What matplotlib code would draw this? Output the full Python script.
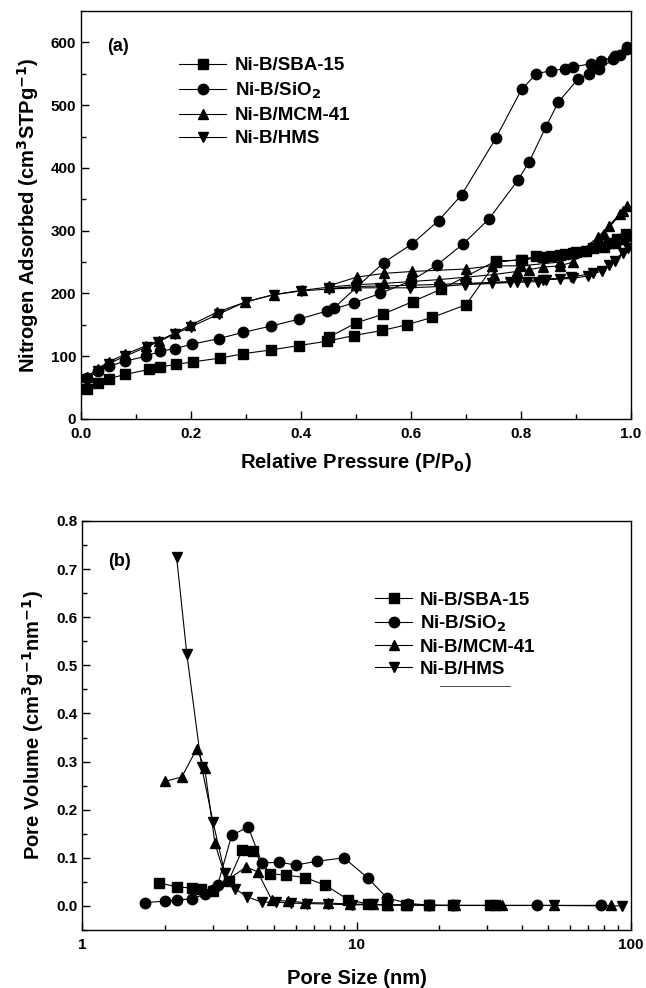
import matplotlib
matplotlib.use("Agg")
import matplotlib.pyplot as plt
from matplotlib.ticker import MultipleLocator, LogLocator, NullFormatter, FixedLocator, FixedFormatter, FormatStrFormatter

plt.rcParams['font.family'] = ['Liberation Sans', 'DejaVu Sans']
plt.rcParams['font.weight'] = 'bold'
plt.rcParams['mathtext.default'] = 'bf'

# ---------------- Panel (a) data: N2 isotherms (adsorption then desorption) ----------------
sba_p = [0.01, 0.03, 0.05, 0.08, 0.124, 0.144, 0.173, 0.203, 0.253, 0.295, 0.345, 0.396, 0.448, 0.496,
         0.547, 0.592, 0.639, 0.70, 0.755, 0.801, 0.827, 0.854, 0.88, 0.895, 0.919, 0.95, 0.97, 0.985, 0.995,
         0.99, 0.975, 0.96, 0.93, 0.90, 0.87, 0.84, 0.80, 0.755, 0.655, 0.603, 0.549, 0.50, 0.45]
sba_v = [47, 58, 64, 71, 79, 83, 87, 91, 97, 104, 110, 117, 124, 133,
         141, 150, 162, 182, 250, 254, 259, 259, 263, 265, 268, 274, 280, 286, 292,
         294, 287, 280, 272, 266, 262, 258, 253, 252, 207, 187, 167, 153, 130]

sio2_p = [0.01, 0.03, 0.05, 0.08, 0.118, 0.144, 0.17, 0.201, 0.25, 0.295, 0.345, 0.396, 0.447, 0.496, 0.544,
          0.60, 0.648, 0.695, 0.742, 0.794, 0.815, 0.845, 0.868, 0.904, 0.924, 0.942, 0.968, 0.98, 0.992,
          0.992, 0.971, 0.945, 0.928, 0.894, 0.88, 0.855, 0.828, 0.801, 0.754, 0.692, 0.65, 0.602, 0.55, 0.46]
sio2_v = [65, 76, 84, 92, 100, 108, 112, 119, 128, 138, 148, 159, 172, 185, 200,
          220, 246, 279, 319, 380, 410, 465, 505, 542, 549, 557, 573, 580, 590,
          592, 578, 570, 566, 561, 558, 555, 550, 525, 447, 357, 316, 279, 249, 177]

mcm_p = [0.01, 0.03, 0.05, 0.08, 0.119, 0.142, 0.171, 0.198, 0.247, 0.298, 0.35, 0.401, 0.45, 0.50,
         0.55, 0.60, 0.65, 0.70, 0.75, 0.792, 0.815, 0.84, 0.871, 0.894, 0.927, 0.951, 0.98, 0.992,
         0.985, 0.96, 0.94, 0.91, 0.87, 0.80, 0.747, 0.70, 0.601, 0.551, 0.501, 0.45]
mcm_v = [67, 80, 91, 103, 117, 125, 137, 149, 170, 186, 198, 205, 210, 214,
         216, 219, 222, 226, 230, 235, 238, 242, 244, 250, 274, 295, 326, 340,
         332, 308, 290, 268, 250, 244, 244, 239, 235, 232, 226, 212]

hms_p = [0.01, 0.03, 0.05, 0.08, 0.12, 0.14, 0.17, 0.2, 0.25, 0.3, 0.35, 0.4, 0.45, 0.5,
         0.544, 0.598, 0.65, 0.698, 0.747, 0.792, 0.81, 0.83, 0.845, 0.871, 0.894, 0.922, 0.947, 0.971, 0.995,
         0.985, 0.96, 0.93, 0.89, 0.84, 0.78, 0.70, 0.60, 0.50, 0.45]
hms_v = [63, 77, 88, 100, 115, 123, 135, 147, 167, 187, 198, 204, 207, 209,
         209, 209, 211, 214, 216, 218, 218, 219, 222, 223, 224, 228, 236, 252, 273,
         265, 245, 232, 226, 222, 219, 216, 213, 211, 208]

# ---------------- Panel (b) data: pore size distributions ----------------
sba_d = [1.90, 2.21, 2.51, 2.71, 3.0, 3.42, 3.84, 4.21, 4.84, 5.55, 6.49, 7.71, 9.33, 11.0, 12.9, 15.2, 18.3, 22.5, 30.6, 32.0]
sba_pv = [0.048, 0.040, 0.037, 0.035, 0.031, 0.052, 0.117, 0.114, 0.067, 0.064, 0.059, 0.043, 0.013, 0.004, 0.002, 0.002, 0.001, 0.001, 0.001, 0.001]

sio2_d = [1.70, 2.0, 2.21, 2.51, 2.80, 3.0, 3.12, 3.51, 4.03, 4.53, 5.22, 6.01, 7.2, 9.0, 11.0, 12.9, 15.4, 18.3, 22.5, 45.6, 77.5]
sio2_pv = [0.007, 0.010, 0.012, 0.015, 0.024, 0.033, 0.043, 0.147, 0.164, 0.089, 0.091, 0.085, 0.093, 0.100, 0.058, 0.017, 0.005, 0.002, 0.001, 0.001, 0.001]

mcm_d = [2.01, 2.31, 2.62, 2.80, 3.05, 3.36, 3.97, 4.36, 4.92, 5.65, 6.5, 7.85, 9.5, 11.5, 13.0, 15.3, 18.3, 22.9, 33.8, 52.5, 84.3]
mcm_pv = [0.259, 0.268, 0.327, 0.286, 0.130, 0.053, 0.081, 0.071, 0.012, 0.010, 0.007, 0.006, 0.004, 0.003, 0.002, 0.002, 0.001, 0.001, 0.001, 0.001, 0.001]

hms_d = [2.21, 2.41, 2.73, 3.0, 3.31, 3.6, 4.0, 4.51, 5.09, 5.75, 6.6, 7.85, 9.66, 11.5, 13.0, 15.4, 18.3, 22.9, 52.5, 93.0]
hms_pv = [0.726, 0.523, 0.288, 0.175, 0.069, 0.036, 0.019, 0.008, 0.008, 0.006, 0.005, 0.004, 0.002, 0.003, 0.002, 0.002, 0.001, 0.001, 0.001, 0.000]

labels = ['Ni-B/SBA-15', 'Ni-B/SiO$_2$', 'Ni-B/MCM-41', 'Ni-B/HMS']
markers = ['s', 'o', '^', 'v']
msizes = [6.5, 7.5, 7.5, 7.5]

fig = plt.figure(figsize=(6.46, 9.88), dpi=100)
axa = fig.add_axes([81/646, 1 - 419/988, 550/646, 408/988])
axb = fig.add_axes([82/646, 1 - 930/988, 549/646, 409/988])

iso = [(sba_p, sba_v), (sio2_p, sio2_v), (mcm_p, mcm_v), (hms_p, hms_v)]
for (x, y), lab, m, ms in zip(iso, labels, markers, msizes):
    axa.plot(x, y, color='black', lw=0.8, marker=m, markersize=ms, label=lab)

psd = [(sba_d, sba_pv), (sio2_d, sio2_pv), (mcm_d, mcm_pv), (hms_d, hms_pv)]
for (x, y), lab, m, ms in zip(psd, labels, markers, msizes):
    axb.plot(x, y, color='black', lw=0.8, marker=m, markersize=ms, label=lab)

# Panel a axes
axa.set_xlim(0, 1.0)
axa.set_ylim(0, 650)
axa.xaxis.set_major_locator(MultipleLocator(0.2))
axa.xaxis.set_minor_locator(MultipleLocator(0.1))
axa.xaxis.set_major_formatter(FormatStrFormatter('%.1f'))
axa.yaxis.set_major_locator(FixedLocator([0, 100, 200, 300, 400, 500, 600]))
axa.yaxis.set_minor_locator(FixedLocator([50, 150, 250, 350, 450, 550]))
axa.set_xlabel('Relative Pressure (P/P$_0$)', fontsize=14.5, fontweight='bold', labelpad=7)
axa.set_ylabel('Nitrogen Adsorbed (cm$^3$STPg$^{-1}$)', fontsize=14.5, fontweight='bold', labelpad=7)
axa.text(0.047, 0.912, '(a)', transform=axa.transAxes, fontsize=13, fontweight='bold', va='center')
axa.legend(loc='upper left', bbox_to_anchor=(0.165, 0.905), frameon=False, fontsize=13.5,
           handlelength=2.5, labelspacing=0.33, handletextpad=0.45, borderaxespad=0)

# Panel b axes
axb.set_xscale('log')
axb.set_xlim(1, 100)
axb.set_ylim(-0.05, 0.8)
axb.xaxis.set_major_locator(FixedLocator([1, 10, 100]))
axb.xaxis.set_major_formatter(FixedFormatter(['1', '10', '100']))
axb.xaxis.set_minor_locator(LogLocator(base=10, subs=range(2, 10)))
axb.xaxis.set_minor_formatter(NullFormatter())
axb.yaxis.set_major_locator(FixedLocator([0.0, 0.1, 0.2, 0.3, 0.4, 0.5, 0.6, 0.7, 0.8]))
axb.yaxis.set_major_formatter(FixedFormatter(['0.0', '0.1', '0.2', '0.3', '0.4', '0.5', '0.6', '0.7', '0.8']))
axb.yaxis.set_minor_locator(MultipleLocator(0.05))
axb.set_xlabel('Pore Size (nm)', fontsize=14.5, fontweight='bold', labelpad=12)
axb.set_ylabel('Pore Volume (cm$^3$g$^{-1}$nm$^{-1}$)', fontsize=14.5, fontweight='bold', labelpad=7)
axb.text(0.047, 0.9, '(b)', transform=axb.transAxes, fontsize=13, fontweight='bold', va='center')
axb.legend(loc='upper left', bbox_to_anchor=(0.52, 0.845), frameon=False, fontsize=13.5,
           handlelength=2.0, labelspacing=0.25, handletextpad=0.4, borderaxespad=0)
axb.plot([0.652, 0.78], [0.597, 0.597], transform=axb.transAxes, color='black', lw=0.5)

for ax in (axa, axb):
    ax.tick_params(which='both', direction='in', top=False, right=False, labelsize=11, width=1.0)
    ax.tick_params(which='major', length=6)
    ax.tick_params(which='minor', length=3.5)
    ax.tick_params(axis='x', which='major', pad=6)
    for lab in ax.get_xticklabels() + ax.get_yticklabels():
        lab.set_fontweight('bold')
    for s in ax.spines.values():
        s.set_linewidth(1.0)

fig.savefig('out.png', dpi=100)
